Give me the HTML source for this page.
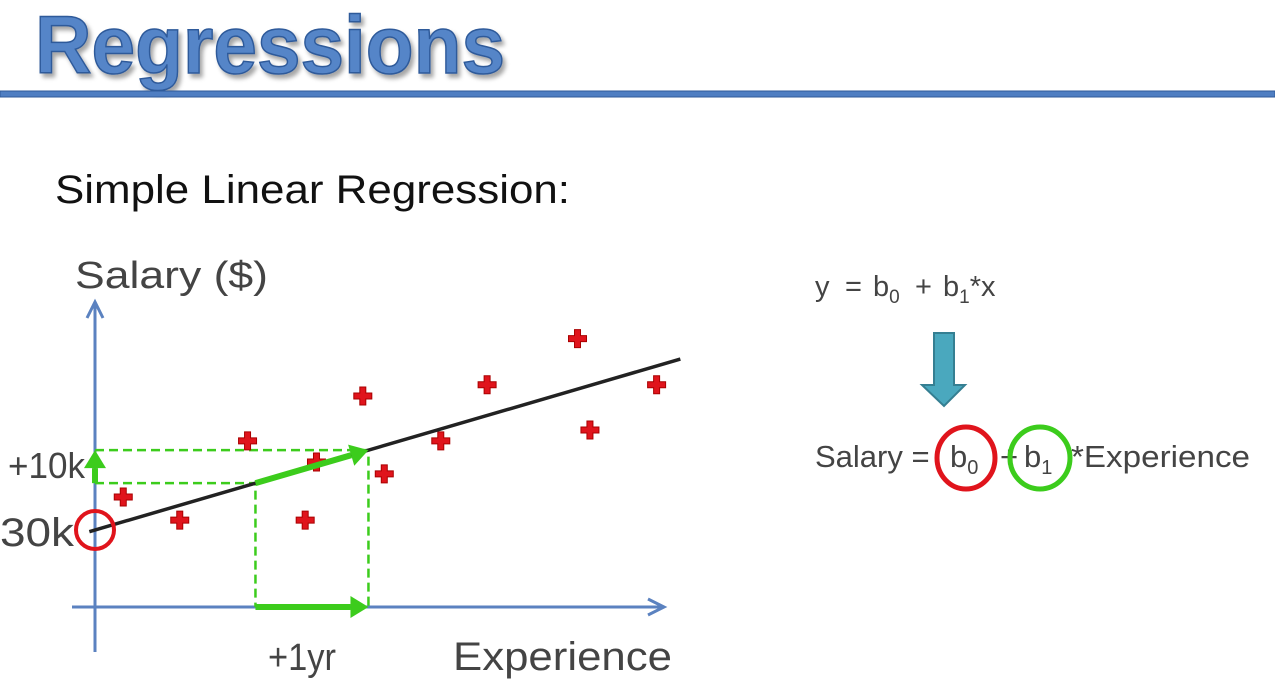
<!DOCTYPE html>
<html><head><meta charset="utf-8"><style>
html,body{margin:0;padding:0;background:#fff;}
svg{display:block;font-family:"Liberation Sans",sans-serif;}
</style></head><body>
<svg id="chart" width="1275" height="697" viewBox="0 0 1275 697" xmlns="http://www.w3.org/2000/svg">
<defs>
<filter id="sh" x="-5%" y="-5%" width="115%" height="130%"><feDropShadow dx="3" dy="4" stdDeviation="2" flood-color="#000" flood-opacity="0.35"/></filter>
</defs>
<text x="35" y="73" font-size="82" font-weight="bold" fill="#5585c8" stroke="#2f5a9a" stroke-width="1.5" textLength="470" lengthAdjust="spacingAndGlyphs" filter="url(#sh)">Regressions</text>
<rect x="0" y="91" width="1275" height="6" fill="#4f7ec2" stroke="#2f5a9a" stroke-width="1"/>
<text x="55" y="203" font-size="40" fill="#111" textLength="515" lengthAdjust="spacingAndGlyphs">Simple Linear Regression:</text>

<g id="plot">
<line x1="95" y1="652" x2="95" y2="305" stroke="#5b82c0" stroke-width="3"/>
<polyline points="87,318 95,302 103,318" fill="none" stroke="#5b82c0" stroke-width="3"/>
<line x1="72" y1="607" x2="662" y2="607" stroke="#5b82c0" stroke-width="3"/>
<polyline points="648,599 664,607 648,615" fill="none" stroke="#5b82c0" stroke-width="3"/>
<text x="75" y="288" font-size="38" fill="#444" textLength="193" lengthAdjust="spacingAndGlyphs">Salary ($)</text>
<text x="453" y="670" font-size="40" fill="#444" textLength="219" lengthAdjust="spacingAndGlyphs">Experience</text>
<text x="268" y="670" font-size="38" fill="#444" textLength="68" lengthAdjust="spacingAndGlyphs">+1yr</text>
<text x="8" y="478" font-size="36" fill="#444" textLength="77" lengthAdjust="spacingAndGlyphs">+10k</text>
<text x="0" y="546" font-size="40" fill="#444" textLength="74" lengthAdjust="spacingAndGlyphs">30k</text>
</g>

<g>
<text x="815" y="296" font-size="29" fill="#444">y <tspan x="845">=</tspan><tspan x="873">b</tspan><tspan font-size="19" dy="7">0</tspan><tspan dy="-7" x="915">+</tspan><tspan x="943">b</tspan><tspan font-size="19" dy="7">1</tspan><tspan dy="-7">*x</tspan></text>
<path d="M934,333 H954 V385 H965 L944,406 L922,385 H934 Z" fill="#4aa8be" stroke="#357f92" stroke-width="2"/>
<text x="815" y="467" font-size="31" fill="#444">Salary = <tspan x="950">b</tspan><tspan font-size="20" dy="7">0</tspan><tspan dy="-7" x="1000">+</tspan><tspan x="1024">b</tspan><tspan font-size="20" dy="7">1</tspan><tspan dy="-7" x="1071" textLength="179" lengthAdjust="spacingAndGlyphs">*Experience</tspan></text>
<ellipse cx="966" cy="458" rx="29" ry="31" fill="none" stroke="#e0141c" stroke-width="5"/>
<ellipse cx="1040" cy="458" rx="30" ry="31" fill="none" stroke="#3ccc1c" stroke-width="5"/>
</g>
</svg>
<script>
const xYears = [0.25, 0.75, 1.35, 1.86, 1.96, 2.37, 2.56, 3.06, 3.47, 4.27, 4.38, 4.97];
const ySalaryK = [40, 33, 57, 33, 50.6, 70.6, 47, 57, 74, 88, 60.3, 74];
const intercept = 30;
const slope = 10;
const lineRange = [-0.05, 5.18];
const stepStart = 1.42;

const sx = v => 95 + v * 113;
const sy = k => 530 - (k - 30) * 3.3;
const NS = 'http://www.w3.org/2000/svg';
const plot = document.getElementById('plot');
function mk(tag, attrs) { const e = document.createElementNS(NS, tag); for (const k in attrs) e.setAttribute(k, attrs[k]); plot.appendChild(e); return e; }

const x0 = sx(stepStart), x1 = sx(stepStart + 1);
const y0 = sy(intercept + slope * stepStart), y1 = sy(intercept + slope * (stepStart + 1));
const g1 = mk('polyline', {points: `95,${y0} ${x0},${y0} ${x0},607`, fill: 'none', stroke: '#3ccc1c', 'stroke-width': 2.5, 'stroke-dasharray': '9,5'});


const g2 = mk('polyline', {points: `95,${y1} ${x1},${y1} ${x1},607`, fill: 'none', stroke: '#3ccc1c', 'stroke-width': 2.5, 'stroke-dasharray': '9,5'});



xYears.forEach((v, i) => {
  const cx = sx(v), cy = sy(ySalaryK[i]);
  const p = mk('path', {d: `M${cx-3},${cy-9}h6v6h6v6h-6v6h-6v-6h-6v-6h6z`, fill: '#e0141c', stroke: '#a00', 'stroke-width': 1});
  
  
});

const rl = mk('line', {x1: sx(lineRange[0]), y1: sy(intercept + slope * lineRange[0]), x2: sx(lineRange[1]), y2: sy(intercept + slope * lineRange[1]), stroke: '#222', 'stroke-width': 3.5});



function arrow(xa, ya, xb, yb, name) {
  const ang = Math.atan2(yb - ya, xb - xa), L = 18, W = 11;
  const bx = xb - L * Math.cos(ang), by = yb - L * Math.sin(ang);
  const l = mk('line', {x1: xa, y1: ya, x2: bx, y2: by, stroke: '#3ccc1c', 'stroke-width': 6});
  
  
  const px = -Math.sin(ang) * W, py = Math.cos(ang) * W;
  const h = mk('polygon', {points: `${xb},${yb} ${bx+px},${by+py} ${bx-px},${by-py}`, fill: '#3ccc1c'});
  
  
}
arrow(x0, 607, x1, 607, 'run-arrow');
arrow(x0, y0, x1, y1, 'slope-arrow');
arrow(95, y0, 95, y1, 'rise-arrow');

const ic = mk('circle', {cx: 95, cy: sy(intercept), r: 19, fill: 'none', stroke: '#e0141c', 'stroke-width': 4});


</script>
</body></html>
